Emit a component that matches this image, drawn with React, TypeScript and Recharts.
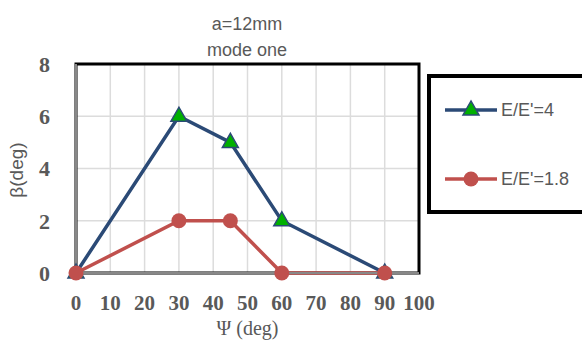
import React from "react";
import { LineChart, Line, XAxis, YAxis, CartesianGrid, ReferenceArea } from "recharts";

const psi = [0, 30, 45, 60, 90];
const ratio4 = [0, 6, 5, 2, 0];
const ratio18 = [0, 2, 2, 0, 0];
const xTicks = [0, 10, 20, 30, 40, 50, 60, 70, 80, 90, 100];
const yTicks = [0, 2, 4, 6, 8];

const data = psi.map((p, i) => ({ psi: p, a: ratio4[i], b: ratio18[i] }));

const BLUE = "#2B4A76";
const RED = "#C0504D";
const GREEN = "#00B000";
const GREY = "#595959";
const SANS = "'Liberation Sans', 'Open Sans', sans-serif";
const SERIF = "'Liberation Serif', 'DejaVu Serif', serif";

const Triangle = (props: any) => {
    const { cx, cy } = props;
    if (cx == null || cy == null) return null;
    return (
        <polygon
            points={`${cx},${cy - 9} ${cx - 8},${cy + 5} ${cx + 8},${cy + 5}`}
            fill={GREEN}
            stroke={BLUE}
            strokeWidth={1.5}
        />
    );
};

// legend drawn as its own box so the plot keeps its width
const LegendBox = () => (
    <svg width={160} height={142} style={{ position: "absolute", left: 427, top: 74 }}>
        <rect x={2} y={2} width={170} height={136} fill="#fff" stroke="#000" strokeWidth={4} />
        <line x1={18} y1={36} x2={70} y2={36} stroke={BLUE} strokeWidth={3.5} />
        <polygon points="44,27 36,41 52,41" fill={GREEN} stroke={BLUE} strokeWidth={1.5} />
        <text x={74} y={42} fill={GREY} fontSize={18} fontFamily={SANS}>E/E'=4</text>
        <line x1={18} y1={105} x2={70} y2={105} stroke={RED} strokeWidth={3.5} />
        <circle cx={44} cy={105} r={7.5} fill={RED} />
        <text x={74} y={111} fill={GREY} fontSize={18} fontFamily={SANS}>E/E'=1.8</text>
    </svg>
);

const App = () => {
    return (
        <div style={{ position: "absolute", left: 0, top: 0, width: 582, height: 343, background: "#fff", overflow: "hidden" }}>
            <div style={{ position: "absolute", left: 0, width: 494, top: 11, textAlign: "center", fontFamily: SANS, fontSize: 18, color: GREY, lineHeight: "26px" }}>
                a=12mm
                <br />
                mode one
            </div>
            <LineChart
                width={582}
                height={343}
                data={data}
                margin={{ top: 64, right: 163, left: 0, bottom: 0 }}
            >
                <CartesianGrid stroke="#dcdcdc" strokeWidth={1.5} />
                <XAxis
                    dataKey="psi"
                    type="number"
                    domain={[0, 100]}
                    ticks={xTicks}
                    interval={0}
                    height={70}
                    tickLine={false}
                    axisLine={{ stroke: "#888", strokeWidth: 2 }}
                    tickMargin={16}
                    tick={{ fill: GREY, fontSize: 21, fontWeight: "bold", fontFamily: SERIF }}
                    label={{ value: "Ψ (deg)", position: "insideBottom", offset: 8, fill: GREY, fontSize: 20, fontFamily: SERIF }}
                />
                <YAxis
                    type="number"
                    domain={[0, 8]}
                    ticks={yTicks}
                    width={76}
                    tickLine={false}
                    axisLine={{ stroke: "#888", strokeWidth: 2 }}
                    tickMargin={20}
                    tick={{ fill: GREY, fontSize: 22, fontWeight: "bold", fontFamily: SERIF }}
                    label={{
                        content: () => (
                            <text
                                x={0}
                                y={0}
                                transform="translate(23,170) rotate(-90)"
                                textAnchor="middle"
                                fill={GREY}
                                fontSize={19}
                                fontFamily={SANS}
                            >
                                β(deg)
                            </text>
                        ),
                    }}
                />
                <ReferenceArea x1={0} x2={100} y1={0} y2={8} fill="none" stroke="#000" strokeWidth={3} ifOverflow="visible" />
                <Line
                    dataKey="a"
                    name="E/E'=4"
                    stroke={BLUE}
                    strokeWidth={3.5}
                    dot={<Triangle />}
                    activeDot={false}
                    isAnimationActive={false}
                />
                <Line
                    dataKey="b"
                    name="E/E'=1.8"
                    stroke={RED}
                    strokeWidth={3.5}
                    dot={{ r: 7.5, fill: RED, stroke: RED, strokeWidth: 0 }}
                    activeDot={false}
                    isAnimationActive={false}
                />
            </LineChart>
            <LegendBox />
        </div>
    );
};

export default App;
